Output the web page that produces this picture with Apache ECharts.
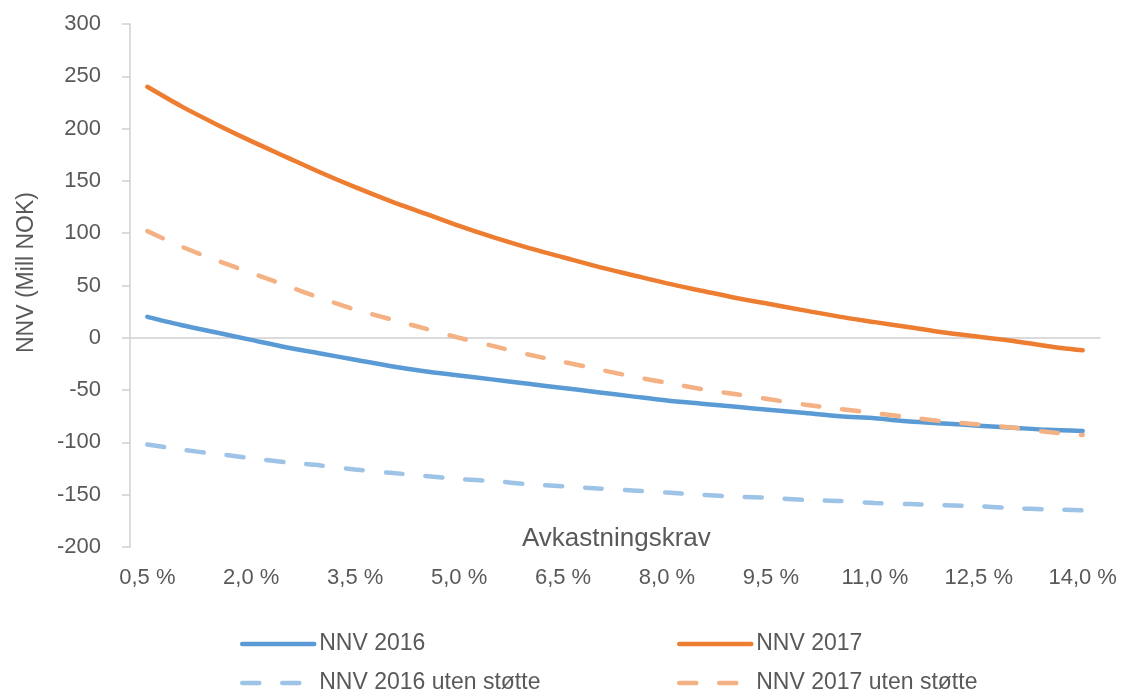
<!DOCTYPE html>
<html>
<head>
<meta charset="utf-8">
<script src="https://cdn.jsdelivr.net/npm/echarts@6/dist/echarts.min.js"></script>
<style>
  html, body { margin: 0; padding: 0; background: #ffffff; }
  #chart { width: 1123px; height: 689px; }
</style>
</head>
<body>
<div id="chart"></div>
<script>
// Required return (%) on the x axis, net present value (Mill NOK) on the y axis
const categories = [
  '0,5 %', '1,0 %', '1,5 %', '2,0 %', '2,5 %', '3,0 %', '3,5 %', '4,0 %', '4,5 %', '5,0 %',
  '5,5 %', '6,0 %', '6,5 %', '7,0 %', '7,5 %', '8,0 %', '8,5 %', '9,0 %', '9,5 %', '10,0 %',
  '10,5 %', '11,0 %', '11,5 %', '12,0 %', '12,5 %', '13,0 %', '13,5 %', '14,0 %'
];

const nnv2016 = [
  20, 12, 5, -2, -9, -15, -21, -27, -32, -36,
  -40, -44, -48, -52, -56, -60, -63, -66, -69, -72,
  -75, -77, -80, -82, -84, -86, -88, -89
];

const nnv2017 = [
  240, 221, 204, 188, 173, 158, 144, 131, 119, 107,
  96, 86, 77, 68, 60, 52, 45, 38, 32, 26,
  20, 15, 10, 5, 1, -3, -8, -12
];

const nnv2016UtenStotte = [
  -102, -107, -111, -115, -119, -122, -126, -129, -132, -135,
  -137, -140, -142, -144, -146, -148, -150, -152, -153, -155,
  -156, -158, -159, -160, -161, -163, -164, -165
];

const nnv2017UtenStotte = [
  102, 87, 74, 62, 50, 38, 27, 18, 9, 0,
  -8, -16, -23, -30, -37, -43, -49, -54, -59, -64,
  -68, -72, -76, -80, -83, -86, -90, -93
];

const yTicks = { min: -200, max: 300, interval: 50 };

const FONT = '"Liberation Sans", Arial, sans-serif';
const TEXT = '#595959';
const AXIS_GREY = '#d0d0d0';

function lineSeries(name, data, color, dashed) {
  return {
    name: name,
    type: 'line',
    data: data,
    symbol: 'none',
    showSymbol: false,
    smooth: 0.25,
    lineStyle: {
      color: color,
      width: 4.5,
      type: dashed ? [17, 23] : 'solid',
      cap: 'round'
    },
    itemStyle: { color: color },
    emphasis: { disabled: true }
  };
}

function legendColumn(left, names) {
  return {
    orient: 'vertical',
    left: left,
    top: 631,
    height: 120,
    itemWidth: 72,
    itemHeight: 12,
    itemGap: 13,
    padding: 0,
    itemStyle: { opacity: 0 },
    lineStyle: { width: 4.5, cap: 'round' },
    textStyle: { fontFamily: FONT, fontSize: 23, lineHeight: 26, color: TEXT },
    data: names
  };
}

const chart = echarts.init(document.getElementById('chart'), null, { renderer: 'canvas' });

chart.setOption({
  backgroundColor: '#ffffff',
  animation: false,
  textStyle: { fontFamily: FONT, color: TEXT },
  // x-axis title, sitting just above the category labels
  title: {
    text: 'Avkastningskrav',
    left: 522,
    top: 526,
    padding: 0,
    textStyle: { fontFamily: FONT, fontSize: 26, fontWeight: 'normal', color: TEXT }
  },
  grid: { left: 130, right: 23, top: 24, bottom: 142, containLabel: false, outerBoundsMode: 'none' },
  legend: [
    legendColumn(240, ['NNV 2016', 'NNV 2016 uten støtte']),
    legendColumn(677, ['NNV 2017', 'NNV 2017 uten støtte'])
  ],
  xAxis: [
    {
      // category labels along the bottom edge
      type: 'category',
      data: categories,
      boundaryGap: true,
      position: 'bottom',
      axisLine: { show: false, onZero: false },
      axisTick: { show: false },
      axisLabel: {
        interval: 2,
        margin: 20,
        fontFamily: FONT,
        fontSize: 22,
        color: TEXT
      },
      splitLine: { show: false }
    },
    {
      // horizontal line through zero
      type: 'category',
      data: categories,
      boundaryGap: true,
      position: 'bottom',
      axisLine: { show: true, onZero: true, lineStyle: { color: AXIS_GREY, width: 1.5 } },
      axisTick: { show: false },
      axisLabel: { show: false },
      splitLine: { show: false }
    }
  ],
  yAxis: {
    type: 'value',
    min: yTicks.min,
    max: yTicks.max,
    interval: yTicks.interval,
    name: 'NNV (Mill NOK)',
    nameLocation: 'middle',
    nameGap: 92,
    nameTextStyle: { fontFamily: FONT, fontSize: 23, color: TEXT, padding: [0, 0, 0, 26] },
    axisLine: { show: true, onZero: false, lineStyle: { color: AXIS_GREY, width: 1.5 } },
    axisTick: { show: true, inside: false, length: 8, lineStyle: { color: AXIS_GREY, width: 1.5 } },
    axisLabel: { margin: 29, fontFamily: FONT, fontSize: 22, color: TEXT },
    splitLine: { show: false }
  },
  series: [
    lineSeries('NNV 2016', nnv2016, '#5b9bd5', false),
    lineSeries('NNV 2017', nnv2017, '#ed7d31', false),
    lineSeries('NNV 2016 uten støtte', nnv2016UtenStotte, '#9dc3e6', true),
    lineSeries('NNV 2017 uten støtte', nnv2017UtenStotte, '#f4b183', true)
  ]
});
</script>
</body>
</html>
